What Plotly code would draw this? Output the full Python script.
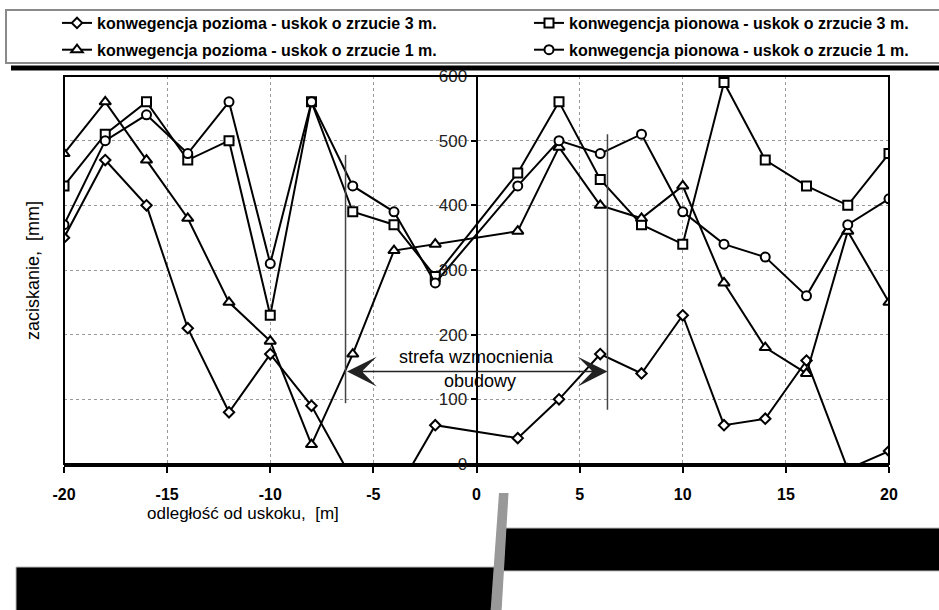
import plotly.graph_objects as go

# ---------------- data ----------------
x_vals = [-20, -18, -16, -14, -12, -10, -8, -6, -4, -2, 2, 4, 6, 8, 10, 12, 14, 16, 18, 20]

names = [
    "konwegencja pozioma - uskok o zrzucie 3 m.",
    "konwegencja pionowa - uskok o zrzucie 3 m.",
    "konwegencja pozioma - uskok o zrzucie 1 m.",
    "konwegencja pionowa - uskok o zrzucie 1 m.",
]

poz_3m = [350, 470, 400, 210, 80, 170, 90, -25, -50, 60, 40, 100, 170, 140, 230, 60, 70, 160, -8, 20]
pion_3m = [430, 510, 560, 470, 500, 230, 560, 390, 370, 290, 450, 560, 440, 370, 340, 590, 470, 430, 400, 480]
poz_1m = [480, 560, 470, 380, 250, 190, 30, 170, 330, 340, 360, 490, 400, 380, 430, 280, 180, 140, 360, 250]
pion_1m = [370, 500, 540, 480, 560, 310, 560, 430, 390, 280, 430, 500, 480, 510, 390, 340, 320, 260, 370, 410]

x_ticks = [-20, -15, -10, -5, 0, 5, 10, 15, 20]
y_ticks = [0, 100, 200, 300, 400, 500, 600]

zone_left, zone_right = -6.35, 6.35
zone_arrow_y = 143
zone_left_y = (94, 478)
zone_right_y = (84, 510)

# ---------------- figure ----------------
W, H = 939, 610
ML, MR, MT, MB = 64, 50, 76, 146
PW, PH = W - ML - MR, H - MT - MB


def px(xp):
    return (xp - ML) / PW


def py(yp):
    return (H - MB - yp) / PH


FONT = "Liberation Sans, Arial, sans-serif"
fig = go.Figure()

series = [
    (poz_3m, "diamond", 8, "legend"),
    (pion_3m, "square", 9, "legend2"),
    (poz_1m, "triangle-up", 10, "legend"),
    (pion_1m, "circle", 9, "legend2"),
]
for i, ((vals, sym, size, leg), name) in enumerate(zip(series, names)):
    fig.add_trace(go.Scatter(
        x=x_vals, y=vals, name=name, mode="lines+markers",
        legend=leg, legendgroup="g%d" % i,
        line=dict(color="black", width=2),
        marker=dict(symbol=sym, size=size, color="white",
                    line=dict(color="black", width=2)),
    ))

shapes = []
# plot frame
shapes.append(dict(type="rect", xref="paper", yref="paper", x0=0, x1=1, y0=0, y1=1,
                   line=dict(color="black", width=2), layer="above"))
# zone vertical lines
shapes.append(dict(type="line", xref="x", yref="y", x0=zone_left, x1=zone_left,
                   y0=zone_left_y[0], y1=zone_left_y[1], line=dict(color="#444", width=1.5)))
shapes.append(dict(type="line", xref="x", yref="y", x0=zone_right, x1=zone_right,
                   y0=zone_right_y[0], y1=zone_right_y[1], line=dict(color="#444", width=1.5)))
# legend box shadow and box
shapes.append(dict(type="rect", xref="paper", yref="paper", x0=px(11), x1=px(945),
                   y0=py(70.5), y1=py(65.5), fillcolor="black", line=dict(width=0)))
shapes.append(dict(type="rect", xref="paper", yref="paper", x0=px(6), x1=px(945),
                   y0=py(63), y1=py(10), fillcolor="white", line=dict(color="#8a8a8a", width=2),
                   layer="below"))
# bottom decorative blocks
shapes.append(dict(type="rect", xref="paper", yref="paper", x0=px(503), x1=px(945),
                   y0=py(571), y1=py(528), fillcolor="black", line=dict(color="#bbb", width=1)))
shapes.append(dict(type="rect", xref="paper", yref="paper", x0=px(16), x1=px(496),
                   y0=py(615), y1=py(567), fillcolor="black", line=dict(color="#bbb", width=1)))
shapes.append(dict(type="path", xref="paper", yref="paper",
                   path="M {},{} L {},{} L {},{} L {},{} Z".format(
                       px(499), py(493), px(508.5), py(493), px(501.5), py(612), px(490.5), py(612)),
                   fillcolor="#999", line=dict(width=0)))

annotations = [
    dict(x=zone_right, y=zone_arrow_y, ax=zone_left, ay=zone_arrow_y, xref="x", yref="y",
         axref="x", ayref="y", text="", showarrow=True, arrowhead=3, startarrowhead=3,
         arrowside="end+start", arrowsize=3.3, startarrowsize=3.3, arrowwidth=1.5,
         arrowcolor="#222", standoff=0, startstandoff=0),
    dict(x=0, y=166, xref="x", yref="y", text="strefa wzmocnienia", showarrow=False,
         xanchor="center", yanchor="middle",
         font=dict(family=FONT, size=18, color="black")),
    dict(x=0.15, y=128, xref="x", yref="y", text="obudowy", showarrow=False,
         xanchor="center", yanchor="middle",
         font=dict(family=FONT, size=18, color="black")),
    dict(x=px(243), y=py(513), xref="paper", yref="paper", text="odległość od uskoku,  [m]",
         showarrow=False, xanchor="center", yanchor="middle",
         font=dict(family=FONT, size=17, color="black")),
    dict(x=px(33), y=py(271), xref="paper", yref="paper", text="zaciskanie,  [mm]",
         showarrow=False, textangle=-90, xanchor="center", yanchor="middle",
         font=dict(family=FONT, size=18, color="black")),
]

leg_common = dict(orientation="v", xanchor="left", yanchor="top", bgcolor="rgba(0,0,0,0)",
                  font=dict(family=FONT, size=16, color="black", weight="bold"),
                  itemwidth=30, tracegroupgap=3, borderwidth=0)

fig.update_layout(
    width=W, height=H,
    margin=dict(l=ML, r=MR, t=MT, b=MB, pad=0, autoexpand=False),
    paper_bgcolor="white", plot_bgcolor="white",
    font=dict(family=FONT, color="black"),
    showlegend=True,
    legend=dict(x=px(57), y=py(6), **leg_common),
    legend2=dict(x=px(529), y=py(6), **leg_common),
    xaxis=dict(range=[-20, 20], tickvals=x_ticks, ticktext=[str(v) for v in x_ticks],
               showgrid=True, gridcolor="#999", griddash="dot", gridwidth=1,
               zeroline=False, showline=True, linecolor="black", linewidth=3,
               ticks="outside", ticklen=6, tickwidth=2, tickcolor="black",
               ticklabelstandoff=8, automargin=False,
               tickfont=dict(family=FONT, size=16, color="black", weight="bold")),
    yaxis=dict(range=[0, 600], tickvals=y_ticks, anchor="free", position=0.5,
               showgrid=True, gridcolor="#999", griddash="dot", gridwidth=1,
               zeroline=False, showline=True, linecolor="black", linewidth=2,
               ticks="outside", ticklen=5, tickwidth=2, tickcolor="black",
               automargin=False,
               tickfont=dict(family=FONT, size=17, color="#222")),
    shapes=shapes,
    annotations=annotations,
)

fig.write_html("out.html", config={"displayModeBar": False},
               post_script="document.body.style.margin='0';document.body.style.overflow='hidden';")
